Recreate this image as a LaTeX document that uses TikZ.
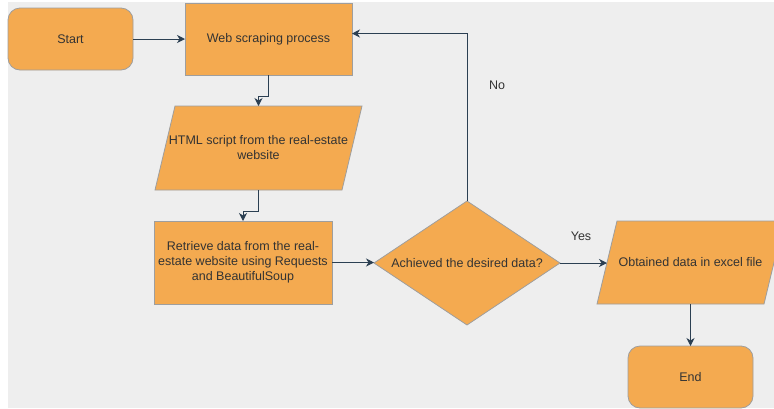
\documentclass[tikz,border=0pt]{standalone}
\usepackage{fontspec}
\setmainfont{Liberation Sans}
\usetikzlibrary{shapes.geometric,arrows.meta}
\definecolor{boxfill}{HTML}{F4AA50}
\definecolor{boxline}{HTML}{9E9E9E}
\definecolor{flowline}{HTML}{2B3F52}
\definecolor{canvas}{HTML}{EEEEEE}
\definecolor{txtgrey}{HTML}{333333}

\begin{document}
\begin{tikzpicture}[x=1pt,y=-1pt,
  every node/.style={font=\fontsize{12.5}{15}\selectfont, text=txtgrey, align=center, inner sep=0pt, outer sep=0pt},
  box/.style={fill=boxfill, draw=boxline, line width=0.8pt},
  flow/.style={draw=flowline, line width=1pt, -{Stealth[length=8pt,width=8pt,inset=2.5pt]}}]
\clip (0,0) rectangle (774,408);
\fill[white] (0,0) rectangle (774,408);
\fill[canvas] (8,2) rectangle (774,408);

\node[box, rounded corners=12pt, minimum width=125, minimum height=62] (start) at (70.5,39) {Start};
\node[box, minimum width=167, minimum height=72] (web) at (268.5,39) {Web scraping process};

\path[box] (175,106) -- (362,106) -- (342,190) -- (155,190) -- cycle;
\node[minimum width=187, minimum height=84] (html) at (258.5,148) {HTML script from the real-estate\\website};

\node[box, minimum width=178, minimum height=83] (ret) at (243,262.5) {Retrieve data from the real-\\estate website using Requests\\and BeautifulSoup};
\node[box, shape=diamond, minimum width=186, minimum height=124] (ach) at (467,263) {\makebox[0pt]{Achieved the desired data?}};

\path[box] (617,221) -- (784,221) -- (764,304) -- (597,304) -- cycle;
\node[minimum width=167, minimum height=83] (out) at (690.5,262.5) {Obtained data in excel file};

\node[box, rounded corners=12pt, minimum width=125, minimum height=62] (end) at (690.5,377) {End};

\node (no) at (497,85) {No};
\node (yes) at (581,236) {Yes};

\draw[flow] (start) -- (web);
\draw[flow] (web.south) -- ++(0,21) -| (html.north);
\draw[flow] (html.south) -- ++(0,21) -| (ret.north);
\draw[flow] (ret.east) -- (ret.east -| ach.west);
\draw[flow] (ach.east) -- (ach.east -| out.west);
\draw[flow] (out) -- (end);
\draw[flow] (ach.north) |- ([yshift=5.5pt]web.east);
\end{tikzpicture}
\end{document}
